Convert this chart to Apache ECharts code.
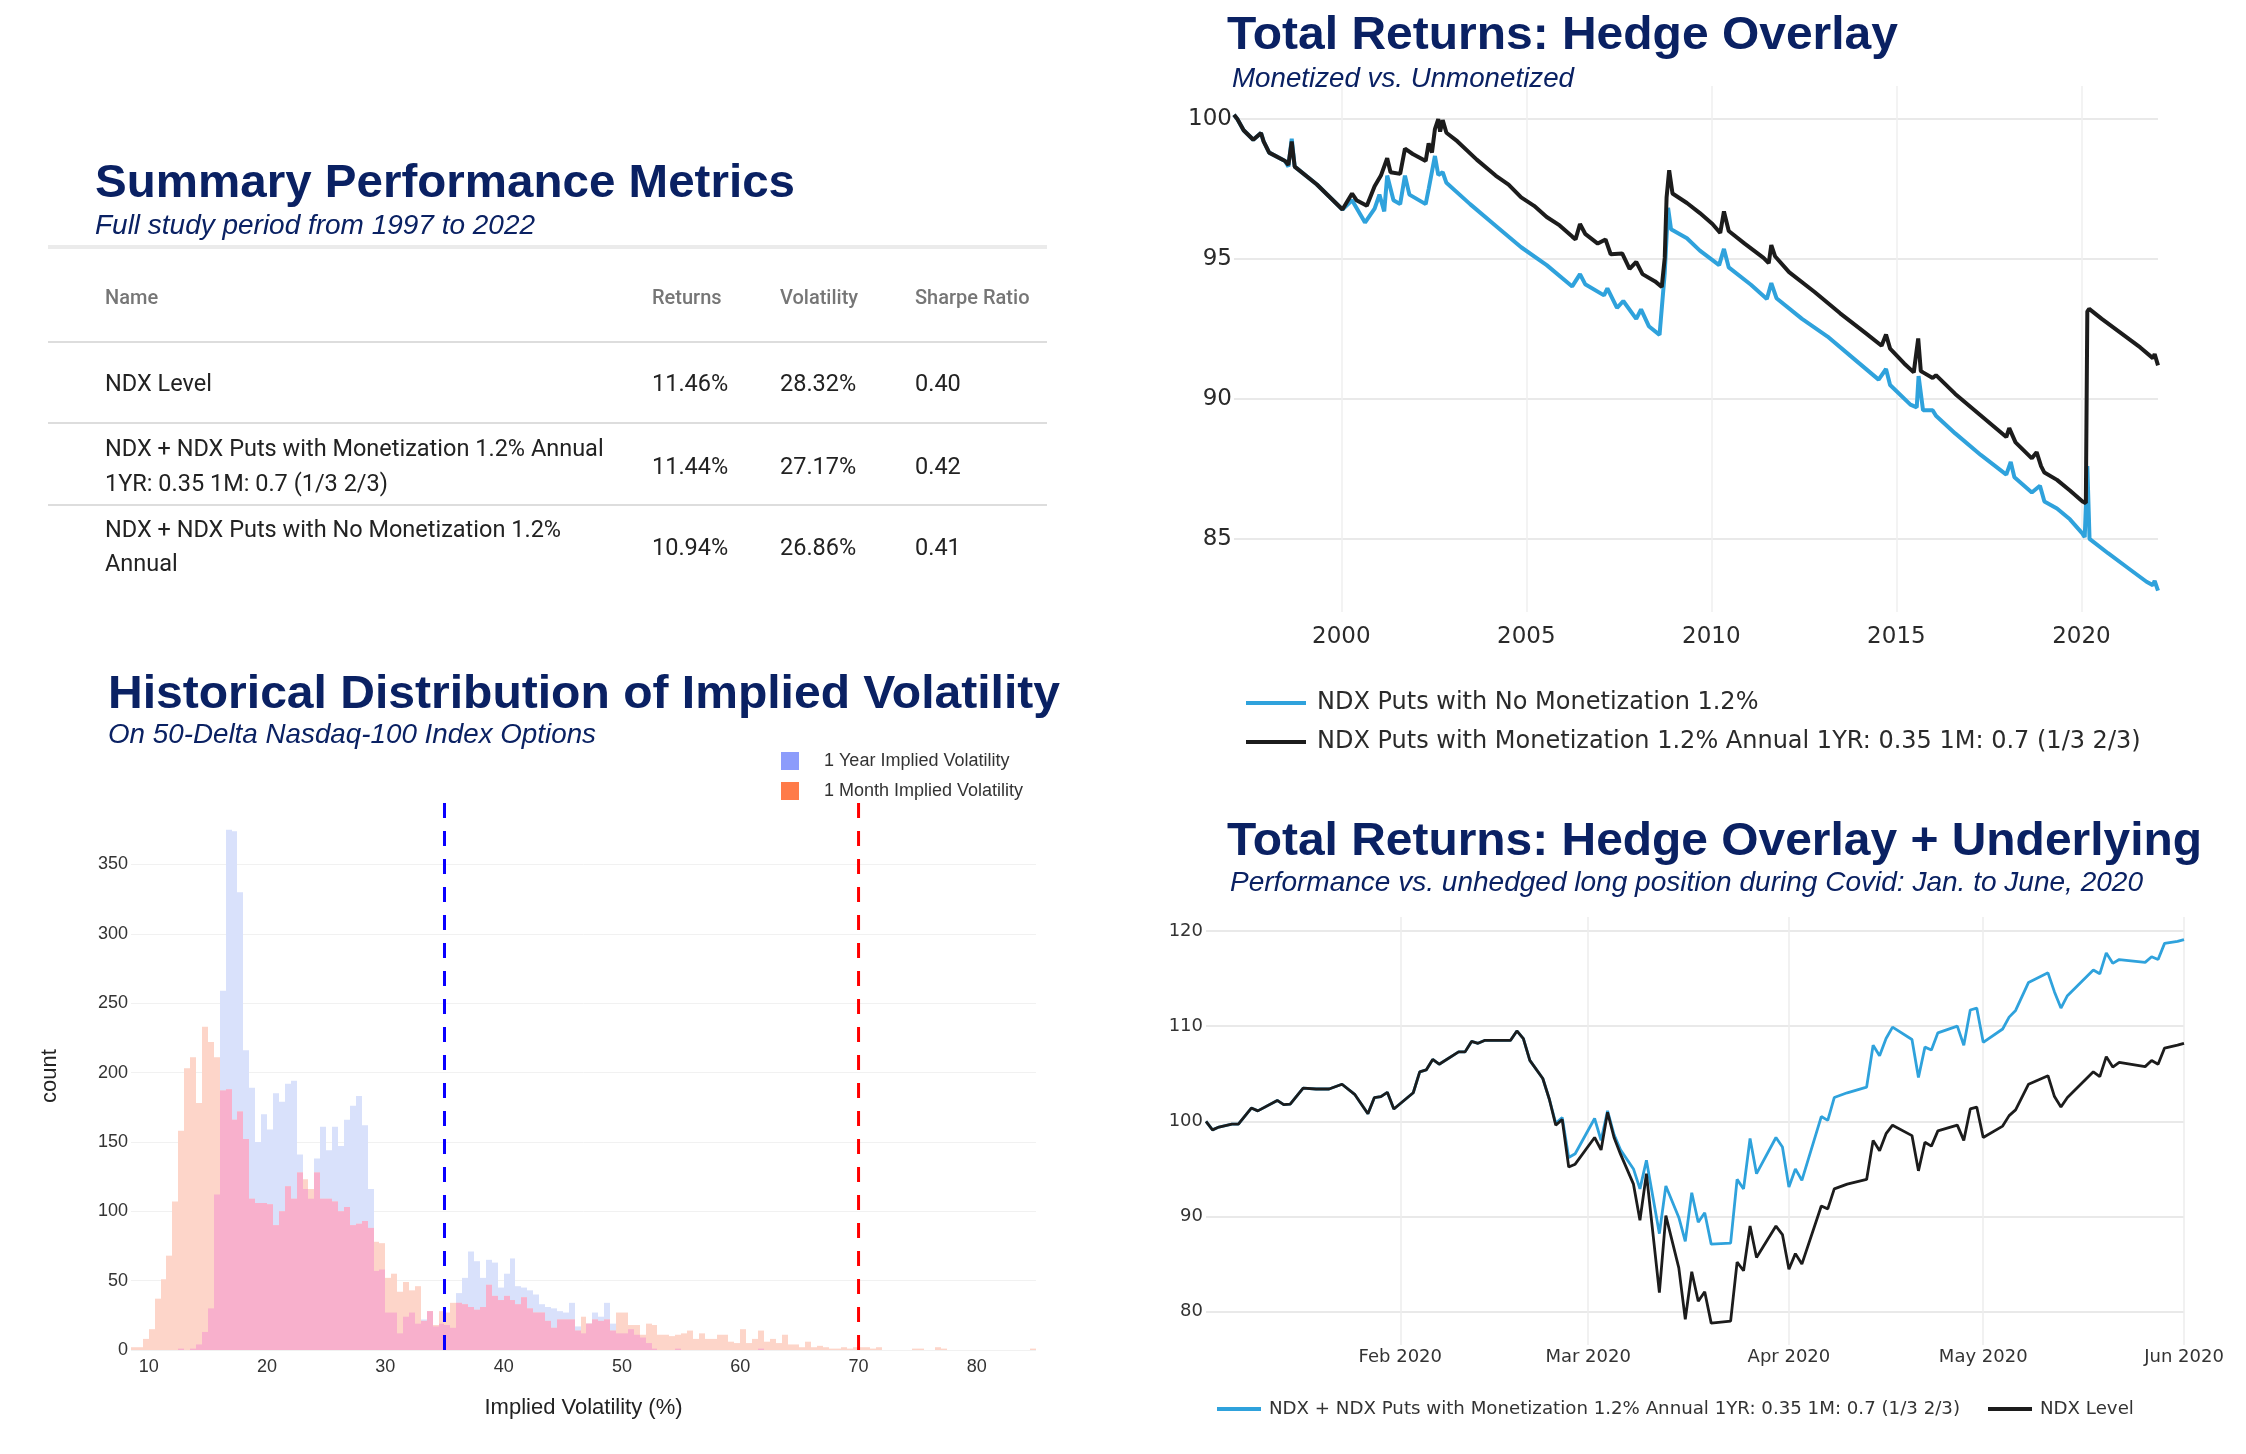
<!DOCTYPE html>
<html>
<head>
<meta charset="utf-8">
<script src="https://cdn.jsdelivr.net/npm/echarts@6/dist/echarts.min.js"></script>
<style>
html,body{margin:0;padding:0;background:#ffffff;}
#chart{position:absolute;left:0;top:0;width:2246px;height:1454px;}
#overlay{position:absolute;left:0;top:0;width:2246px;height:1454px;pointer-events:none;}
.t{position:absolute;white-space:nowrap;transform-origin:0 0;}
.title{font-family:'Liberation Sans',Arial,sans-serif;font-weight:bold;color:#0a2163;font-size:47px;line-height:47px;}
.sub{font-family:'Liberation Sans',Arial,sans-serif;font-style:italic;color:#0a2163;font-size:28px;line-height:28px;}
.head{font-family:Roboto,sans-serif;font-size:20px;font-weight:500;color:#767676;line-height:30px;}
.cell{font-family:Roboto,sans-serif;font-size:23.5px;color:#222222;line-height:36px;}
.rule{position:absolute;left:48px;width:999px;}
</style>
</head>
<body>
<div id="chart"></div>
<div id="overlay"></div>
<script>
// ---------------- data ----------------
const TABLE_HEADERS = ['Name', 'Returns', 'Volatility', 'Sharpe Ratio'];
const TABLE_NAMES = [
  ['NDX Level'],
  ['NDX + NDX Puts with Monetization 1.2% Annual', '1YR: 0.35 1M: 0.7 (1/3 2/3)'],
  ['NDX + NDX Puts with No Monetization 1.2%', 'Annual']
];
const TABLE_RETURNS = ['11.46%', '11.44%', '10.94%'];
const TABLE_VOLATILITY = ['28.32%', '27.17%', '26.86%'];
const TABLE_SHARPE = ['0.40', '0.42', '0.41'];

// Histogram: counts per 0.5-wide bin, first bin starts at 8.5
const HIST_BIN_START = 8.5;
const HIST_BIN_WIDTH = 0.5;
const IV_1Y = [
  0,0,0,0,0,0,0,0,1,0,
  1,4,13,30,112,259,375,374,330,216,
  189,150,170,159,185,179,192,194,141,116,
  109,138,161,144,161,147,166,176,183,162,
  116,57,58,27,27,12,24,27,19,22,
  28,17,19,18,16,41,52,71,64,52,
  65,63,45,55,66,46,45,43,40,33,
  31,30,28,27,34,17,12,19,27,24,
  34,19,12,12,15,11,9,5,1,0,
  0,0,1,0,0,0,0,0,0,0,
  0,0,0,0,0,0,1,0,0,0,
  0,0,0,0,0,0,0,0,0,0,
  0,0,0,0,0,0,0,0,0,0,
  0,0,0,0,0,0,0,0,0,0,
  0,0,0,0,0,0,0,0,0,0,
  0,0,0
];
const IV_1M = [
  2,2,8,15,37,51,68,107,158,203,
  211,178,233,222,211,187,188,166,172,152,
  109,106,106,105,90,100,118,109,128,123,
  116,128,109,109,107,100,103,90,91,93,
  88,78,77,52,55,42,49,43,46,21,
  28,18,28,27,34,34,33,31,29,31,
  47,39,36,39,36,33,38,30,27,27,
  21,16,22,22,22,14,24,19,22,21,
  22,14,27,27,18,18,11,19,18,11,
  11,10,11,12,14,8,12,8,8,11,
  11,6,5,15,5,8,14,6,8,5,
  11,4,4,2,6,2,3,2,1,1,
  2,1,2,2,2,1,2,0,0,0,
  0,0,1,1,0,0,2,1,0,0,
  0,0,0,0,0,0,0,0,0,0,
  0,0,1
];
const HIST_X_TICKS = [10,20,30,40,50,60,70,80];
const HIST_Y_TICKS = [0,50,100,150,200,250,300,350];
const HIST_REF_LINES = [35, 70];

// Total returns: hedge overlay (decimal years)
const TR_NOMON_X = [
  1997.10,1997.19,1997.36,1997.62,1997.83,1997.90,1998.05,1998.48,1998.57,1998.66,
  1998.74,1999.34,2000.03,2000.29,2000.64,2000.90,2001.03,2001.16,2001.24,2001.41,
  2001.59,2001.72,2001.84,2002.28,2002.36,2002.53,2002.62,2002.74,2002.84,2003.48,
  2004.17,2004.86,2005.55,2006.24,2006.45,2006.59,2007.10,2007.19,2007.45,2007.62,
  2007.97,2008.10,2008.31,2008.60,2008.74,2008.83,2008.91,2009.34,2009.69,2010.21,
  2010.34,2010.47,2011.07,2011.50,2011.62,2011.76,2012.45,2013.14,2013.83,2014.52,
  2014.72,2014.83,2015.38,2015.55,2015.60,2015.72,2015.98,2016.07,2016.59,2017.28,
  2017.97,2018.09,2018.19,2018.66,2018.88,2019.00,2019.34,2019.69,2020.03,2020.09,
  2020.16,2020.22,2020.72,2021.24,2021.76,2021.93,2021.98,2022.07
];
const TR_NOMON_Y = [
  100.15,100.0,99.6,99.26,99.5,99.2,98.8,98.5,98.3,99.3,
  98.3,97.66,96.77,97.1,96.3,96.8,97.3,96.7,97.98,97.1,
  96.96,97.98,97.3,96.96,97.5,98.68,98.0,98.1,97.72,96.96,
  96.19,95.42,94.78,94.02,94.46,94.1,93.7,93.95,93.25,93.5,
  92.86,93.2,92.6,92.29,94.5,96.83,96.06,95.74,95.3,94.78,
  95.36,94.7,94.08,93.57,94.14,93.6,92.86,92.23,91.46,90.69,
  91.07,90.5,89.8,89.7,90.82,89.6,89.6,89.4,88.77,88.0,
  87.3,87.75,87.2,86.66,86.9,86.34,86.09,85.7,85.19,85.06,
  87.6,85.0,84.49,83.98,83.47,83.35,83.5,83.15
];
const TR_MON_X = [
  1997.10,1997.19,1997.36,1997.62,1997.83,1997.90,1998.05,1998.48,1998.57,1998.66,
  1998.74,1999.34,2000.03,2000.29,2000.41,2000.69,2000.90,2001.07,2001.24,2001.33,
  2001.59,2001.72,2001.93,2002.28,2002.36,2002.45,2002.53,2002.62,2002.67,2002.74,
  2002.84,2003.14,2003.66,2004.17,2004.52,2004.86,2005.21,2005.55,2005.90,2006.24,
  2006.33,2006.45,2006.59,2006.93,2007.14,2007.28,2007.59,2007.79,2007.97,2008.14,
  2008.48,2008.66,2008.74,2008.79,2008.86,2008.95,2009.34,2009.69,2010.03,2010.24,
  2010.34,2010.47,2010.90,2011.41,2011.55,2011.62,2011.72,2012.10,2012.79,2013.48,
  2014.17,2014.60,2014.72,2014.83,2015.21,2015.47,2015.59,2015.66,2015.72,2015.98,
  2016.07,2016.59,2017.28,2017.97,2018.05,2018.22,2018.66,2018.79,2018.91,2019.00,
  2019.34,2019.69,2020.03,2020.12,2020.16,2020.21,2020.55,2021.07,2021.59,2021.93,
  2021.98,2022.07
];
const TR_MON_Y = [
  100.15,100.0,99.6,99.26,99.5,99.2,98.8,98.5,98.36,99.2,
  98.3,97.66,96.77,97.34,97.1,96.9,97.6,97.98,98.6,98.1,
  98.04,98.94,98.75,98.5,99.13,98.8,99.64,100.0,99.55,99.96,
  99.51,99.2,98.55,97.98,97.66,97.2,96.9,96.5,96.2,95.8,
  95.7,96.25,95.9,95.55,95.7,95.17,95.2,94.65,94.9,94.46,
  94.2,94.0,95.04,97.2,98.17,97.34,97.0,96.64,96.25,95.93,
  96.7,96.0,95.55,95.04,94.85,95.5,95.1,94.53,93.82,93.06,
  92.35,91.9,92.3,91.8,91.27,90.95,92.16,91.0,90.95,90.75,
  90.85,90.18,89.41,88.64,88.96,88.45,87.88,88.1,87.6,87.37,
  87.11,86.73,86.34,86.28,93.12,93.22,92.86,92.35,91.84,91.46,
  91.6,91.2
];
const TR_X_TICKS = [2000, 2005, 2010, 2015, 2020];
const TR_Y_TICKS = [85, 90, 95, 100];

// Covid period: Jan to June 2020
const COVID_DATES = [
  '2020-01-02','2020-01-03','2020-01-04','2020-01-06','2020-01-07','2020-01-09','2020-01-10','2020-01-13','2020-01-14','2020-01-15',
  '2020-01-17','2020-01-19','2020-01-21','2020-01-23','2020-01-25','2020-01-27','2020-01-28','2020-01-29','2020-01-30','2020-01-31',
  '2020-02-03','2020-02-04','2020-02-05','2020-02-06','2020-02-07','2020-02-10','2020-02-11','2020-02-12','2020-02-13','2020-02-14',
  '2020-02-18','2020-02-19','2020-02-20','2020-02-21','2020-02-23','2020-02-24','2020-02-25','2020-02-26','2020-02-27','2020-02-28',
  '2020-03-02','2020-03-03','2020-03-04','2020-03-05','2020-03-06','2020-03-08','2020-03-09','2020-03-10','2020-03-12','2020-03-13',
  '2020-03-15','2020-03-16','2020-03-17','2020-03-18','2020-03-19','2020-03-20','2020-03-23','2020-03-24','2020-03-25','2020-03-26',
  '2020-03-27','2020-03-30','2020-03-31','2020-04-01','2020-04-02','2020-04-03','2020-04-06','2020-04-07','2020-04-08','2020-04-10',
  '2020-04-13','2020-04-14','2020-04-15','2020-04-16','2020-04-17','2020-04-20','2020-04-21','2020-04-22','2020-04-23','2020-04-24',
  '2020-04-27','2020-04-28','2020-04-29','2020-04-30','2020-05-01','2020-05-04','2020-05-05','2020-05-06','2020-05-08','2020-05-11',
  '2020-05-12','2020-05-13','2020-05-14','2020-05-18','2020-05-19','2020-05-20','2020-05-21','2020-05-22','2020-05-26','2020-05-27',
  '2020-05-28','2020-05-29','2020-05-31','2020-06-01'
];
const COVID_NDX = [
  100.0,99.1,99.4,99.7,99.7,101.4,101.1,102.2,101.75,101.8,
  103.5,103.4,103.4,103.9,102.8,100.8,102.5,102.6,103.05,101.3,
  103.0,105.2,105.4,106.5,106.0,107.3,107.3,108.4,108.2,108.5,
  108.5,109.5,108.7,106.4,104.5,102.35,99.6,100.2,95.2,95.5,
  98.3,97.0,100.95,98.3,96.55,93.4,89.6,94.5,82.0,90.1,
  84.6,79.2,84.2,81.1,82.1,78.8,79.0,85.2,84.3,89.0,
  85.7,89.0,88.1,84.45,86.1,85.0,91.1,90.8,92.9,93.4,
  93.9,98.0,96.9,98.7,99.6,98.5,94.8,97.8,97.4,99.0,
  99.6,98.0,101.3,101.5,98.3,99.5,100.6,101.2,103.9,104.8,
  102.6,101.5,102.5,105.2,104.7,106.8,105.7,106.2,105.75,106.4,
  106.0,107.7,108.0,108.2
];
const COVID_HEDGED = [
  100.0,99.1,99.4,99.7,99.7,101.4,101.1,102.2,101.75,101.8,
  103.5,103.4,103.4,103.9,102.8,100.8,102.5,102.6,103.05,101.3,
  103.0,105.2,105.4,106.5,106.0,107.3,107.3,108.4,108.2,108.5,
  108.5,109.5,108.7,106.4,104.5,102.35,99.8,100.4,96.2,96.6,
  100.3,98.0,101.1,98.6,97.0,95.0,92.9,95.9,88.2,93.2,
  89.9,87.4,92.5,89.4,90.4,87.1,87.2,93.9,92.9,98.2,
  94.5,98.3,97.3,93.1,95.0,93.8,100.5,100.1,102.5,103.0,
  103.6,108.0,106.9,108.7,109.9,108.6,104.6,107.8,107.5,109.3,
  110.0,108.0,111.7,111.9,108.3,109.7,110.95,111.65,114.6,115.6,
  113.6,111.9,113.2,115.9,115.5,117.7,116.6,117.0,116.7,117.3,
  117.0,118.7,118.9,119.1
];
const COVID_X_TICKS = ['2020-02-01', '2020-03-01', '2020-04-01', '2020-05-01', '2020-06-01'];
const COVID_Y_TICKS = [80, 90, 100, 110, 120];

const NAME_1Y = '1 Year Implied Volatility';
const NAME_1M = '1 Month Implied Volatility';
const NAME_TR_NOMON = 'NDX Puts with No Monetization 1.2%';
const NAME_TR_MON = 'NDX Puts with Monetization 1.2% Annual 1YR: 0.35 1M: 0.7 (1/3 2/3)';
const NAME_COVID_HEDGED = 'NDX + NDX Puts with Monetization 1.2% Annual 1YR: 0.35 1M: 0.7 (1/3 2/3)';
const NAME_COVID_NDX = 'NDX Level';

// ---------------- HTML titles and table ----------------
const overlay = document.getElementById('overlay');
function place(text, cls, left, top, fitW) {
  const el = document.createElement('div');
  el.className = 't ' + cls;
  el.textContent = text;
  el.style.left = left + 'px';
  el.style.top = top + 'px';
  overlay.appendChild(el);
  if (fitW) {
    const w = el.getBoundingClientRect().width;
    if (w > 0) el.style.transform = 'scaleX(' + (fitW / w) + ')';
  }
  return el;
}
function rule(y, h, color) {
  const el = document.createElement('div');
  el.className = 'rule';
  el.style.top = y + 'px';
  el.style.height = h + 'px';
  el.style.background = color;
  overlay.appendChild(el);
}
const TITLE_BASE = 0.8465 * 47, SUB_BASE = 0.8465 * 28;
place('Summary Performance Metrics', 'title', 95, 197 - TITLE_BASE, 700);
place('Full study period from 1997 to 2022', 'sub', 95, 235 - SUB_BASE, 440);
place('Historical Distribution of Implied Volatility', 'title', 108, 708 - TITLE_BASE, 952);
place('On 50-Delta Nasdaq-100 Index Options', 'sub', 108, 744 - SUB_BASE, 488);
place('Total Returns: Hedge Overlay', 'title', 1227, 49 - TITLE_BASE, 671);
place('Monetized vs. Unmonetized', 'sub', 1232, 88 - SUB_BASE, 342);
place('Total Returns: Hedge Overlay + Underlying', 'title', 1227, 855 - TITLE_BASE, 975);
place('Performance vs. unhedged long position during Covid: Jan. to June, 2020', 'sub', 1230, 892 - SUB_BASE, 913);

const COL_X = [105, 652, 780, 915];
TABLE_HEADERS.forEach((h, i) => place(h, 'head', COL_X[i], 297 - 15));
rule(245, 4, '#ebebeb');
rule(341, 2, '#dddddd');
rule(422, 2, '#dddddd');
rule(504, 2, '#dddddd');
const ROW_VALUE_Y = [383, 466, 547];
const ROW_NAME_Y = [[383], [448, 483], [529, 563]];
TABLE_NAMES.forEach((lines, r) => {
  lines.forEach((ln, k) => place(ln, 'cell', COL_X[0], ROW_NAME_Y[r][k] - 18));
  place(TABLE_RETURNS[r], 'cell', COL_X[1], ROW_VALUE_Y[r] - 18);
  place(TABLE_VOLATILITY[r], 'cell', COL_X[2], ROW_VALUE_Y[r] - 18);
  place(TABLE_SHARPE[r], 'cell', COL_X[3], ROW_VALUE_Y[r] - 18);
});

// ---------------- ECharts ----------------
const chart = echarts.init(document.getElementById('chart'), null, {renderer: 'canvas'});

const HIST_Y_MAX = 395;
const LAVENDER = '#d9e1fb', PEACH = '#fdd5c9', PINK = '#f8b0cc';
const REF_COLORS = ['#0a00ff', '#ff0000'];

function binData(arr) {
  return arr.map((c, i) => [HIST_BIN_START + i * HIST_BIN_WIDTH, c]);
}
const IV_OVERLAP = IV_1Y.map((v, i) => Math.min(v, IV_1M[i]));

function barRenderer(fill) {
  return function (params, api) {
    const x = api.value(0), c = api.value(1);
    if (!c) return null;
    const a = api.coord([x, c]);
    const b = api.coord([x + HIST_BIN_WIDTH, 0]);
    const x0 = Math.round(a[0]), x1 = Math.round(b[0]);
    return {
      type: 'rect',
      shape: {x: x0, y: a[1], width: x1 - x0, height: b[1] - a[1]},
      style: {fill: fill}
    };
  };
}

const MONTHS = ['Jan','Feb','Mar','Apr','May','Jun','Jul','Aug','Sep','Oct','Nov','Dec'];
function monthLabel(v) {
  const d = new Date(v);
  return MONTHS[d.getMonth()] + ' ' + d.getFullYear();
}
const toTime = s => +echarts.time.parse(s);
const covidTickValues = COVID_X_TICKS.map(toTime);
const covidTimes = COVID_DATES.map(toTime);

const zip = (xs, ys) => xs.map((x, i) => [x, ys[i]]);

const option = {
  animation: false,
  backgroundColor: '#ffffff',
  grid: [
    {left: 131, right: 1210, top: 802, bottom: 104},
    {left: 1234, right: 88, top: 86, bottom: 842},
    {left: 1206, right: 62, top: 917, bottom: 109}
  ],
  legend: [
    {
      data: [{name: NAME_1Y, itemStyle: {color: '#8c9cfb'}}, {name: NAME_1M, itemStyle: {color: '#ff7b49'}}],
      orient: 'vertical', left: 776, top: 747, icon: 'rect',
      itemWidth: 18, itemHeight: 18, itemGap: 12,
      selectedMode: false,
      textStyle: {fontFamily: 'Liberation Sans', fontSize: 18, color: '#333', lineHeight: 18, padding: [0, 0, 0, 20]}
    },
    {
      data: [NAME_TR_NOMON, NAME_TR_MON],
      orient: 'vertical', left: 1241, top: 685, icon: 'rect',
      itemWidth: 60, itemHeight: 4, itemGap: 13,
      selectedMode: false,
      textStyle: {fontFamily: 'DejaVu Sans', fontSize: 24, color: '#2a2a2a', lineHeight: 26, padding: [0, 0, 0, 6]}
    },
    {
      data: [NAME_COVID_HEDGED, NAME_COVID_NDX],
      orient: 'horizontal', left: 1212, top: 1394, icon: 'rect',
      itemWidth: 44, itemHeight: 4, itemGap: 28,
      selectedMode: false,
      textStyle: {fontFamily: 'DejaVu Sans', fontSize: 18.2, color: '#333', lineHeight: 20, padding: [0, 0, 0, 3]}
    }
  ],
  xAxis: [
    {
      gridIndex: 0, type: 'value', min: 8.5, max: 85,
      axisLine: {show: false}, axisTick: {show: false, customValues: HIST_X_TICKS},
      splitLine: {show: false},
      axisLabel: {customValues: HIST_X_TICKS, fontFamily: 'Liberation Sans', fontSize: 18, color: '#333', margin: 8},
      name: 'Implied Volatility (%)', nameLocation: 'middle', nameGap: 47,
      nameTextStyle: {fontFamily: 'Liberation Sans', fontSize: 22, color: '#222'}
    },
    {
      gridIndex: 1, type: 'value', min: 1997.1, max: 2022.07,
      axisLine: {show: false}, axisTick: {show: false, customValues: TR_X_TICKS},
      splitLine: {show: true, lineStyle: {color: '#efefef', width: 1.5}},
      axisLabel: {customValues: TR_X_TICKS, fontFamily: 'DejaVu Sans', fontSize: 23, color: '#2a2a2a', margin: 14,
        formatter: v => String(Math.round(v))}
    },
    {
      gridIndex: 2, type: 'value', min: toTime('2020-01-02'), max: toTime('2020-06-01'),
      axisLine: {show: false}, axisTick: {show: false, customValues: covidTickValues},
      splitLine: {show: true, lineStyle: {color: '#ececec', width: 1.5}},
      axisLabel: {customValues: covidTickValues, fontFamily: 'DejaVu Sans', fontSize: 18, color: '#333', margin: 3,
        formatter: monthLabel, hideOverlap: false}
    }
  ],
  yAxis: [
    {
      gridIndex: 0, type: 'value', min: 0, max: HIST_Y_MAX,
      axisLine: {show: false}, axisTick: {show: false, customValues: HIST_Y_TICKS},
      splitLine: {show: true, lineStyle: {color: '#f1f1f1', width: 1}},
      axisLabel: {customValues: HIST_Y_TICKS, fontFamily: 'Liberation Sans', fontSize: 18, color: '#333', margin: 3},
      name: 'count', nameLocation: 'middle', nameGap: 70, nameRotate: 90,
      nameTextStyle: {fontFamily: 'Liberation Sans', fontSize: 22, color: '#222'}
    },
    {
      gridIndex: 1, type: 'value', min: 82.39, max: 101.18,
      axisLine: {show: false}, axisTick: {show: false, customValues: TR_Y_TICKS},
      splitLine: {show: true, lineStyle: {color: '#e9e9e9', width: 2}},
      axisLabel: {customValues: TR_Y_TICKS, fontFamily: 'DejaVu Sans', fontSize: 23, color: '#2a2a2a', margin: 2}
    },
    {
      gridIndex: 2, type: 'value', min: 76.5, max: 121.47,
      axisLine: {show: false}, axisTick: {show: false, customValues: COVID_Y_TICKS},
      splitLine: {show: true, lineStyle: {color: '#e9e9e9', width: 2}},
      axisLabel: {customValues: COVID_Y_TICKS, fontFamily: 'DejaVu Sans', fontSize: 18, color: '#333', margin: 3}
    }
  ],
  series: [
    {
      name: NAME_1Y, type: 'custom', xAxisIndex: 0, yAxisIndex: 0,
      data: binData(IV_1Y), encode: {x: 0, y: 1}, itemStyle: {color: '#8c9cfb'},
      renderItem: barRenderer(LAVENDER), silent: true, z: 2
    },
    {
      name: NAME_1M, type: 'custom', xAxisIndex: 0, yAxisIndex: 0,
      data: binData(IV_1M), encode: {x: 0, y: 1}, itemStyle: {color: '#ff7b49'},
      renderItem: barRenderer(PEACH), silent: true, z: 2
    },
    {
      name: 'overlap', type: 'custom', xAxisIndex: 0, yAxisIndex: 0,
      data: binData(IV_OVERLAP), encode: {x: 0, y: 1},
      renderItem: barRenderer(PINK), silent: true, z: 3
    },
    {
      name: 'reference', type: 'custom', xAxisIndex: 0, yAxisIndex: 0,
      data: HIST_REF_LINES.map(v => [v, 0]), encode: {x: 0, y: 1}, silent: true, z: 5,
      renderItem: function (params, api) {
        const x = api.value(0);
        const bottom = api.coord([x, 0]);
        const top = api.coord([x, HIST_Y_MAX]);
        return {
          type: 'line',
          shape: {x1: bottom[0], y1: bottom[1], x2: top[0], y2: top[1]},
          style: {stroke: REF_COLORS[params.dataIndex], lineWidth: 3, lineDash: [15, 13]}
        };
      }
    },
    {
      name: NAME_TR_NOMON, type: 'line', xAxisIndex: 1, yAxisIndex: 1,
      data: zip(TR_NOMON_X, TR_NOMON_Y), showSymbol: false, symbol: 'none',
      color: '#2fa2dc', lineStyle: {width: 4, color: '#2fa2dc'}, silent: true, z: 3
    },
    {
      name: NAME_TR_MON, type: 'line', xAxisIndex: 1, yAxisIndex: 1,
      data: zip(TR_MON_X, TR_MON_Y), showSymbol: false, symbol: 'none',
      color: '#1c1c1c', lineStyle: {width: 4, color: '#1c1c1c'}, silent: true, z: 4
    },
    {
      name: NAME_COVID_HEDGED, type: 'line', xAxisIndex: 2, yAxisIndex: 2,
      data: zip(covidTimes, COVID_HEDGED), showSymbol: false, symbol: 'none',
      color: '#2fa2dc', lineStyle: {width: 2.8, color: '#2fa2dc'}, silent: true, z: 3
    },
    {
      name: NAME_COVID_NDX, type: 'line', xAxisIndex: 2, yAxisIndex: 2,
      data: zip(covidTimes, COVID_NDX), showSymbol: false, symbol: 'none',
      color: '#1c1c1c', lineStyle: {width: 2.8, color: '#1c1c1c'}, silent: true, z: 4
    }
  ]
};
chart.setOption(option);
</script>
</body>
</html>
